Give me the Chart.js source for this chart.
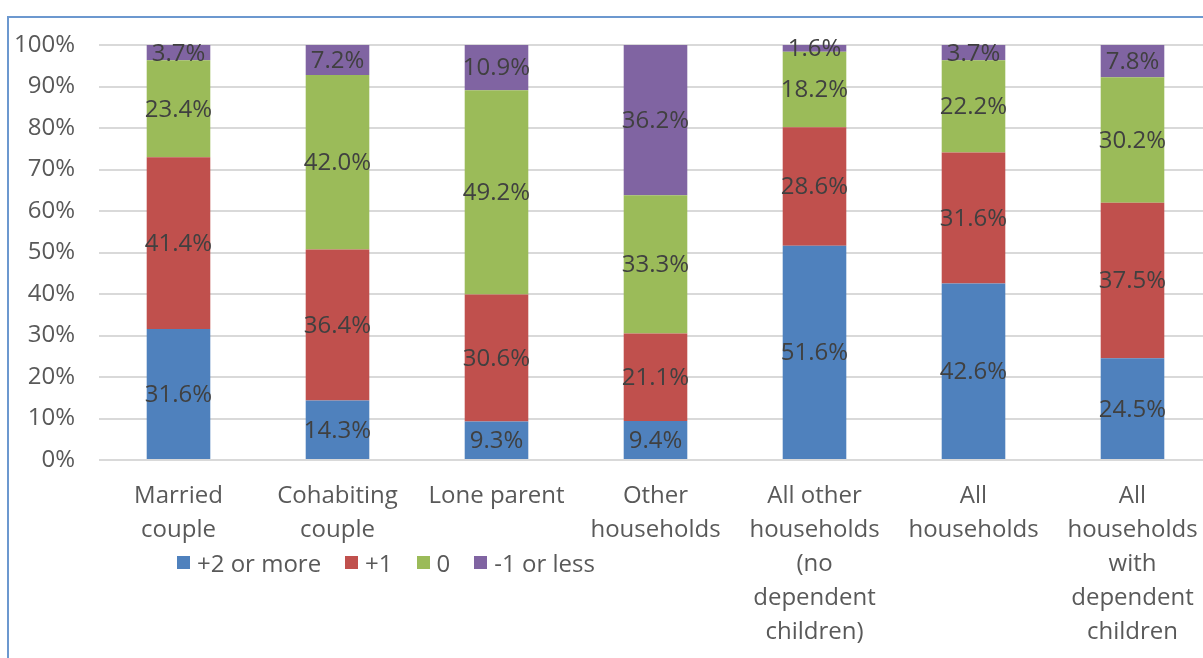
<!DOCTYPE html>
<html>
<head>
<meta charset="utf-8">
<script src="https://cdn.jsdelivr.net/npm/chart.js@4.4.1/dist/chart.umd.min.js"></script>
<style>
    html, body { margin: 0; padding: 0; background: #fff; overflow: hidden; }
    body { width: 1203px; height: 658px; position: relative; }
    .frame { position: absolute; left: 7px; top: 16px; width: 1300px; height: 800px; border: 2px solid #6c98cf; box-sizing: border-box; }
    .wrap { position: absolute; left: 0; top: 0; width: 1215px; height: 658px; }
    .legend { position: absolute; left: 177px; top: 546px; display: flex; align-items: center; font-family: "Open Sans", sans-serif; font-size: 24px; color: #595959; }
    .legend .item { display: flex; align-items: center; margin-right: 24px; }
    .legend .sw { width: 13px; height: 13px; margin-right: 7px; }
</style>
</head>
<body>
<div class="frame"></div>
<div class="wrap"><canvas id="chart"></canvas></div>
<div class="legend" id="legend"></div>
<script>
const categories = [
    ['Married', 'couple'],
    ['Cohabiting', 'couple'],
    ['Lone parent'],
    ['Other', 'households'],
    ['All other', 'households', '(no', 'dependent', 'children)'],
    ['All', 'households'],
    ['All', 'households', 'with', 'dependent', 'children']
];
const seriesNames = ['+2 or more', '+1', '0', '-1 or less'];
const seriesColors = ['#4f81bd', '#c0504d', '#9bbb59', '#8064a2'];

const plus2 = [31.6, 14.3, 9.3, 9.4, 51.6, 42.6, 24.5];
const plus1 = [41.4, 36.4, 30.6, 21.1, 28.6, 31.6, 37.5];
const zero = [23.4, 42.0, 49.2, 33.3, 18.2, 22.2, 30.2];
const minus1 = [3.7, 7.2, 10.9, 36.2, 1.6, 3.7, 7.8];

const yTicks = [0, 10, 20, 30, 40, 50, 60, 70, 80, 90, 100];

// 100% stacked: heights are shares of each column's total, labels show the raw values
const raw = [plus2, plus1, zero, minus1];
const totals = categories.map((c, i) => raw.reduce((s, arr) => s + arr[i], 0));

const datasets = raw.map((arr, k) => ({
    label: seriesNames[k],
    data: arr.map((v, i) => v / totals[i] * 100),
    rawValues: arr,
    backgroundColor: seriesColors[k],
    borderWidth: 0,
    categoryPercentage: 1,
    barPercentage: 0.4
}));

const FONT = '"Open Sans", sans-serif';

const segmentLabels = {
    id: 'segmentLabels',
    afterDatasetsDraw(chart) {
        const ctx = chart.ctx;
        ctx.save();
        ctx.font = '24px ' + FONT;
        ctx.fillStyle = '#404040';
        ctx.textAlign = 'center';
        ctx.textBaseline = 'middle';
        chart.data.datasets.forEach((ds, di) => {
            chart.getDatasetMeta(di).data.forEach((el, i) => {
                const v = ds.rawValues[i];
                ctx.fillText(v.toFixed(1) + '%', el.x, (el.y + el.base) / 2 + 1);
            });
        });
        ctx.restore();
    }
};

new Chart(document.getElementById('chart'), {
    type: 'bar',
    data: { labels: categories, datasets },
    plugins: [segmentLabels],
    options: {
        responsive: true,
        maintainAspectRatio: false,
        animation: false,
        layout: { padding: { top: 45, right: 3, bottom: 0, left: 0 } },
        plugins: { legend: { display: false }, tooltip: { enabled: false } },
        scales: {
            x: {
                stacked: true,
                grid: { display: false },
                border: { display: false },
                ticks: {
                    color: '#595959',
                    font: { family: FONT, size: 24, lineHeight: 1.42 },
                    padding: 11,
                    maxRotation: 0,
                    autoSkip: false
                },
                afterFit(scale) { scale.height = 198; }
            },
            y: {
                stacked: true,
                min: 0,
                max: 100,
                afterBuildTicks(scale) { scale.ticks = yTicks.map(v => ({ value: v })); },
                grid: { color: '#d9d9d9', lineWidth: 2, drawTicks: false },
                border: { display: false },
                ticks: {
                    color: '#595959',
                    font: { family: FONT, size: 24 },
                    padding: 24,
                    callback: v => v + '%'
                },
                afterFit(scale) { scale.width = 99; }
            }
        }
    }
});

const legend = document.getElementById('legend');
seriesNames.forEach((name, k) => {
    const item = document.createElement('div');
    item.className = 'item';
    item.innerHTML = `<span class="sw" style="background:${seriesColors[k]}"></span><span>${name}</span>`;
    legend.appendChild(item);
});
</script>
</body>
</html>
